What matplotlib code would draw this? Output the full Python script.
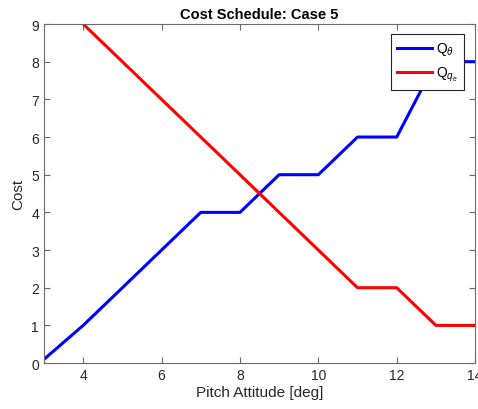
import matplotlib
matplotlib.use("Agg")
import matplotlib.pyplot as plt

plt.rcParams['font.family'] = ['Liberation Sans', 'DejaVu Sans']
plt.rcParams['mathtext.fontset'] = 'custom'
plt.rcParams['mathtext.rm'] = 'Liberation Sans'
plt.rcParams['mathtext.it'] = 'Liberation Sans:italic'

x_theta = [3, 4, 7, 8, 9, 10, 11, 12, 13, 14]
q_theta = [0.1, 1, 4, 4, 5, 5, 6, 6, 8, 8]
x_qe = [4, 11, 12, 13, 14]
q_qe = [9, 2, 2, 1, 1]

fig = plt.figure(figsize=(4.78, 4.10), dpi=100)
ax = fig.add_axes([0.092, 0.112, 0.902, 0.827])
ax.plot(x_theta, q_theta, color='#0000ff', lw=2.2, label=r'Q$_\theta$')
ax.plot(x_qe, q_qe, color='#ff0000', lw=2.2, label=r'Q$_{q_e}$')
ax.set_xlim(3, 14)
ax.set_ylim(0, 9)
ax.set_xticks([4, 6, 8, 10, 12, 14])
ax.set_yticks(range(0, 10))
for s in ax.spines.values():
    s.set_color('#6a6a6a')
    s.set_linewidth(0.8)
ax.tick_params(direction='in', length=4, width=0.8, colors='#6a6a6a', labelcolor='#262626', labelsize=10, top=True, right=True)
ax.set_xlabel('Pitch Attitude [deg]', fontsize=11, color='#262626', labelpad=2)
ax.set_ylabel('Cost', fontsize=11, color='#262626', labelpad=4)
ax.set_title('Cost Schedule: Case 5', fontsize=10.5, fontweight='bold', pad=4)
leg = ax.legend(loc='upper right', bbox_to_anchor=(0.975, 0.97), fancybox=False, framealpha=1,
                edgecolor='#262626', fontsize=10, handlelength=2.5, handletextpad=0.3,
                borderpad=0.45, labelspacing=0.55, borderaxespad=0.0)
leg.get_frame().set_linewidth(0.8)
fig.savefig('out.png', dpi=100)
